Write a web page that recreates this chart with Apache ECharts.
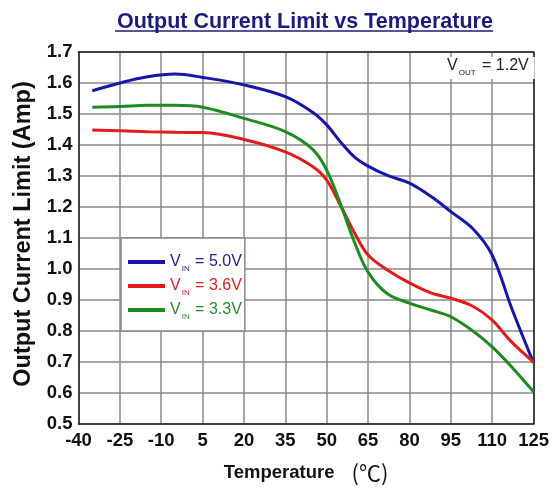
<!DOCTYPE html>
<html>
<head>
<meta charset="utf-8">
<script src="https://cdn.jsdelivr.net/npm/echarts@6/dist/echarts.min.js"></script>
<style>
html,body{margin:0;padding:0;background:#fff;}
#chart{width:552px;height:492px;}
</style>
</head>
<body>
<div id="chart"></div>
<script>
const temps = [-35, -25, -15, -5, 5, 20, 35, 45, 50, 55, 60, 65, 72, 80, 88, 95, 103, 110, 117, 125];
const vin50 = [1.575, 1.600, 1.620, 1.629, 1.618, 1.594, 1.556, 1.505, 1.465, 1.410, 1.362, 1.332, 1.302, 1.277, 1.233, 1.185, 1.130, 1.045, 0.875, 0.697];
const vin36 = [1.448, 1.446, 1.443, 1.441, 1.440, 1.418, 1.378, 1.330, 1.287, 1.205, 1.118, 1.045, 0.997, 0.955, 0.922, 0.906, 0.880, 0.835, 0.765, 0.700];
const vin33 = [1.522, 1.524, 1.528, 1.528, 1.522, 1.486, 1.443, 1.385, 1.319, 1.210, 1.088, 0.990, 0.920, 0.890, 0.867, 0.846, 0.800, 0.749, 0.685, 0.604];
const seriesNames = ['VIN = 5.0V', 'VIN = 3.6V', 'VIN = 3.3V'];
const seriesKeys = ['b', 'r', 'g'];
const seriesValues = [vin50, vin36, vin33];
const seriesColors = ['#1616a8', '#e01c1c', '#1f8a1f'];
const legendTextColors = ['#22228c', '#d42424', '#2b8a2b'];
const xTicks = {min: -40, max: 125, step: 15};
const yTicks = {min: 0.5, max: 1.7, step: 0.1};
const titleText = 'Output Current Limit vs Temperature';
const yName = 'Output Current Limit (Amp)';

const FONT = 'Arial, "Liberation Sans", Helvetica, sans-serif';
const chart = echarts.init(document.getElementById('chart'), null, {renderer: 'canvas'});

const legendRich = {};
seriesKeys.forEach((k, i) => {
  legendRich[k] = {color: legendTextColors[i], fontSize: 16, fontFamily: FONT, lineHeight: 22, verticalAlign: 'middle'};
  legendRich[k + 's'] = {color: legendTextColors[i], fontSize: 8, fontFamily: FONT, lineHeight: 8, verticalAlign: 'bottom', padding: [0, 1, 0, 1]};
});

const series = seriesNames.map((name, i) => ({
  name: name,
  type: 'line',
  smooth: 0.35,
  symbol: 'none',
  data: temps.map((t, j) => [t, seriesValues[i][j]]),
  lineStyle: {color: seriesColors[i], width: 3},
  itemStyle: {color: seriesColors[i]},
  z: 3 + i
}));

const option = {
  backgroundColor: '#fff',
  animation: false,
  title: [
    {
      text: titleText,
      left: 112, top: 6,
      textStyle: {fontSize: 21.5, fontWeight: 'bold', color: '#1c1c7e', fontFamily: FONT}
    },
    {
      text: '{v|V}{s|OUT}{v| = 1.2V}',
      left: 441, top: 54,
      padding: [1, 6, 2, 6],
      backgroundColor: '#fff',
      textStyle: {
        fontWeight: 'normal',
        rich: {
          v: {fontSize: 16, fontWeight: 'normal', color: '#222', fontFamily: FONT, lineHeight: 22, verticalAlign: 'middle'},
          s: {fontSize: 8, fontWeight: 'normal', color: '#222', fontFamily: FONT, lineHeight: 8, verticalAlign: 'bottom', padding: [0, 2, 0, 1]}
        }
      }
    }
  ],
  legend: {
    orient: 'vertical',
    left: 121, top: 238,
    padding: [16, 3, 10, 7],
    itemGap: 5,
    itemWidth: 37, itemHeight: 4,
    icon: 'rect',
    backgroundColor: '#fff',
    borderColor: '#888',
    borderWidth: 1.5,
    data: seriesNames,
    formatter: function (name) {
      const i = seriesNames.indexOf(name);
      const k = seriesKeys[i];
      return '{' + k + '|V}{' + k + 's|IN}{' + k + '|' + name.slice(3) + '}';
    },
    textStyle: {rich: legendRich, padding: [0, 0, 0, 0]}
  },
  grid: {left: 78.5, right: 15, top: 52, bottom: 68},
  xAxis: [
    {
      type: 'value', min: xTicks.min, max: xTicks.max, interval: xTicks.step,
      name: 'Temperature{c|(℃)}',
      nameLocation: 'middle', nameGap: 38,
      nameTextStyle: {
        fontSize: 18.5, fontWeight: 'bold', color: '#111', fontFamily: FONT,
        rich: {c: {fontSize: 22, fontWeight: 'normal', color: '#111', fontFamily: '"Noto Sans CJK SC", sans-serif', padding: [0, 0, 0, 17]}}
      },
      axisLine: {show: true, onZero: false, lineStyle: {color: '#222', width: 1.5}},
      axisTick: {show: false},
      axisLabel: {fontSize: 18.5, fontWeight: 'bold', color: '#111', fontFamily: FONT, margin: 7},
      splitLine: {show: true, lineStyle: {color: '#8a8a8a', width: 1.5}}
    },
    {
      type: 'value', position: 'top', min: xTicks.min, max: xTicks.max,
      axisLine: {show: true, onZero: false, lineStyle: {color: '#222', width: 1.5}},
      axisTick: {show: false}, axisLabel: {show: false}, splitLine: {show: false}
    }
  ],
  yAxis: [
    {
      type: 'value', min: yTicks.min, max: yTicks.max, interval: yTicks.step,
      name: yName,
      nameLocation: 'middle', nameGap: 43, nameRotate: 90,
      nameTextStyle: {fontSize: 23.5, fontWeight: 'bold', color: '#111', fontFamily: FONT, padding: [0, 0, 0, 8]},
      axisLine: {show: true, onZero: false, lineStyle: {color: '#222', width: 1.5}},
      axisTick: {show: false},
      axisLabel: {fontSize: 18.5, fontWeight: 'bold', color: '#111', fontFamily: FONT, margin: 6,
        formatter: v => v.toFixed(1)},
      splitLine: {show: true, lineStyle: {color: '#8a8a8a', width: 1.5}}
    },
    {
      type: 'value', position: 'right', min: yTicks.min, max: yTicks.max,
      axisLine: {show: true, onZero: false, lineStyle: {color: '#222', width: 1.5}},
      axisTick: {show: false}, axisLabel: {show: false}, splitLine: {show: false}
    }
  ],
  graphic: [
    {
      type: 'line', z: 100,
      shape: {x1: 115, y1: 31, x2: 493, y2: 31},
      style: {stroke: '#1c1c7e', lineWidth: 1.5}
    }
  ],
  series: series
};
chart.setOption(option);
</script>
</body>
</html>
